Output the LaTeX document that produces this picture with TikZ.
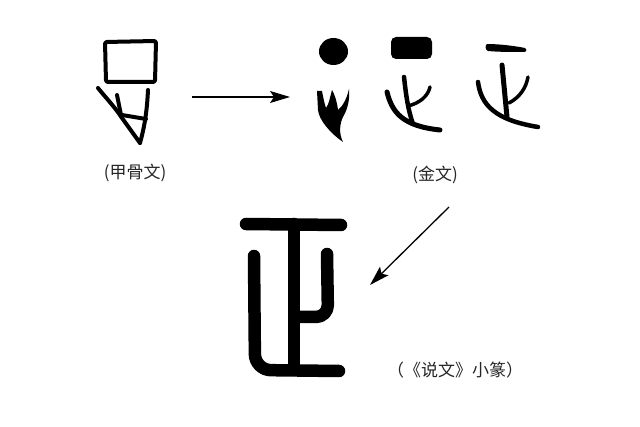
\documentclass[tikz,border=0pt]{standalone}
\usepackage{fontspec}
\newfontfamily\cjk{Noto Sans CJK SC}
\usetikzlibrary{arrows.meta}

\begin{document}
\begin{tikzpicture}[
		x=1pt, y=-1pt,
		stroke/.style={line width=4pt, line cap=round, line join=round},
		seal/.style={line width=12.5pt, line cap=round, line join=round},
		caption/.style={font=\cjk\fontsize{17}{19}\selectfont, inner sep=0pt, text=black!85},
		arrow/.style={-{Stealth[length=20pt, width=12pt, inset=4pt]}, line width=1.3pt},
	]
		\fill[white] (0,0) rectangle (640,427);
		\useasboundingbox (0,0) rectangle (640,427);

		% oracle bone form
		\draw[stroke, rounded corners=2pt] (105,42) -- (156,41) -- (155,82) -- (106,82) -- cycle;
		\draw[stroke] (98,88) .. controls (106,98) and (114,106) .. (122,118) -- (140,143);
		\draw[stroke] (117,95) -- (121,115);
		\draw[stroke] (122,115) -- (146,119);
		\draw[stroke] (148,90) .. controls (147,110) and (145,125) .. (140,143);
		\node[caption] (jgw) at (135,173) {(甲骨文)};

		% bronze forms
		\fill (333.5,51.5) ellipse [x radius=14.5pt, y radius=13.5pt];
		\fill (317,91) -- (318,110) .. controls (319,120) and (330,133) .. (343,142)
			.. controls (339,134) and (339,124) .. (344,115)
			.. controls (348,108) and (350,98) .. (349,89)
			.. controls (347,98) and (343,106) .. (338,110)
			.. controls (337,102) and (335,95) .. (332,90)
			.. controls (330,97) and (329,104) .. (326,108)
			.. controls (324,102) and (323,96) .. (322,91) -- cycle;

		\fill[rounded corners=5pt] (391,37) rectangle (432,59);
		\draw[stroke, line width=4.5pt] (404,77) .. controls (406,95) and (408,110) .. (413,124);
		\draw[stroke, line width=5pt] (387,92) .. controls (392,112) and (402,126) .. (440,130);
		\draw[stroke, line width=3.5pt] (408,106) .. controls (420,103) and (428,96) .. (430,87);

		\fill (487,44) .. controls (500,44) and (515,46) .. (525,48)
			.. controls (527,49) and (527,51) .. (525,52)
			.. controls (512,52) and (498,52) .. (488,51)
			.. controls (485,50) and (485,45) .. cycle;
		\draw[stroke, line width=5pt] (502,65) -- (507,117);
		\draw[stroke, line width=4.5pt] (478,82) .. controls (481,105) and (495,120) .. (538,127);
		\draw[stroke, line width=3.5pt] (509,103) .. controls (520,97) and (526,88) .. (528,77);
		\node[caption] (jw) at (435,175) {(金文)};

		% small seal form
		\draw[seal] (246,224) -- (341,225);
		\draw[seal] (294,224) -- (294,370);
		\draw[seal, rounded corners=16pt] (254,256) -- (255,370) -- (339,371);
		\draw[seal, rounded corners=12pt] (327,254) -- (328,317) -- (296,317);
		\node[caption] (xz) at (455,370) {（《说文》小篆）};

		\coordinate (a1s) at (192,97);
		\coordinate (a1e) at (290,97);
		\coordinate (a2s) at (449,207);
		\coordinate (a2e) at (370,285);
		\draw[arrow] (a1s) -- (a1e);
		\draw[arrow] (a2s) -- (a2e);
	\end{tikzpicture}
\end{document}
